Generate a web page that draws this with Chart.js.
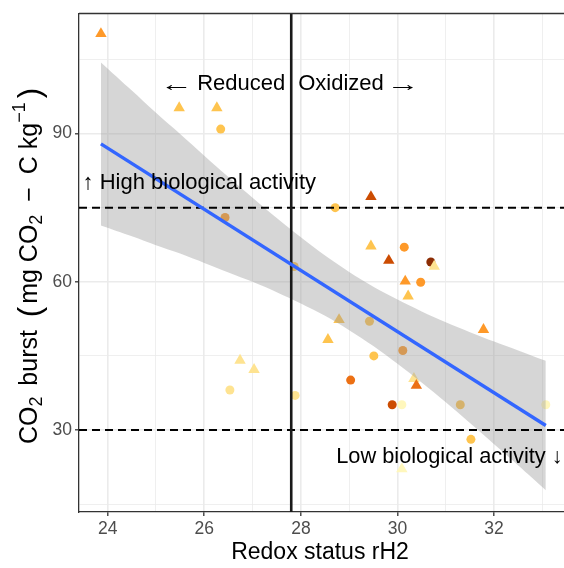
<!DOCTYPE html>
<html>
<head>
<meta charset="utf-8">
<script src="https://cdn.jsdelivr.net/npm/chart.js@4.4.1/dist/chart.umd.min.js"></script>
<style>
  html, body { margin: 0; padding: 0; background: #fff; }
</style>
</head>
<body>
<canvas id="chart-redox" width="564" height="568"></canvas>
<script>
// samples: redox status (rH2) against CO2 burst
const redox = [23.86, 25.48, 26.26, 26.34, 26.43, 28.71, 29.45, 29.45, 30.14, 29.82,
               30.69, 30.76, 30.16, 30.48, 30.22, 28.79, 29.42, 28.56, 31.78, 29.51,
               30.11, 26.74, 27.03, 26.53, 27.88, 29.03, 30.34, 30.39, 29.89, 30.09,
               31.30, 33.07, 31.52, 30.09, 27.86];
const co2Burst = [110.2, 95.2, 95.2, 90.9, 73.0, 75.0, 77.2, 67.2, 67.0, 64.3,
                  64.0, 63.1, 60.1, 59.9, 57.1, 52.3, 52.0, 48.3, 50.3, 45.0,
                  46.1, 44.1, 42.2, 38.1, 37.0, 40.1, 40.4, 39.0, 35.1, 35.1,
                  35.1, 35.1, 28.1, 22.1, 63.1];
// 0 = circle, 1 = triangle
const shapeType = [1, 1, 1, 0, 0, 0, 1, 1, 0, 1,
                   0, 1, 1, 0, 1, 1, 0, 1, 1, 0,
                   0, 1, 1, 0, 0, 0, 1, 1, 0, 0,
                   0, 0, 0, 1, 0];
// step on the yellow-orange-brown ramp
const colourLevel = [4, 3, 3, 3, 4, 3, 6, 3, 4, 6,
                     7, 2, 4, 4, 3, 3, 3, 3, 4, 3,
                     4, 2, 2, 2, 2, 5, 2, 5, 6, 1,
                     3, 1, 3, 1, 3];

// linear fit and its confidence band
const fitX = [23.86, 33.07];
const fitY = [87.9, 30.9];
const bandX = [23.86, 24.5, 25, 25.5, 26, 26.5, 27, 27.5, 28, 28.5,
               29, 29.5, 30, 30.5, 31, 31.5, 32, 32.5, 33.07];
const bandUpper = [104.4, 98.7, 94.2, 89.9, 85.5, 81.2, 77.0, 72.9, 69.0, 65.3,
                   62.0, 59.0, 56.4, 54.0, 51.8, 49.8, 47.9, 46.1, 44.0];
const bandLower = [71.4, 69.2, 67.4, 65.7, 63.8, 61.9, 60.0, 57.9, 55.6, 53.1,
                   50.2, 47.0, 43.4, 39.6, 35.6, 31.4, 27.1, 22.8, 17.8];

// thresholds
const redoxBoundary = 27.8;
const activityHigh = 75;
const activityLow = 30;

// axes
const xLabelTicks = [24, 26, 28, 30, 32];
const xGridTicks = [24, 25, 26, 27, 28, 29, 30, 31, 32, 33];
const yLabelTicks = [30, 60, 90];
const yGridTicks = [15, 30, 45, 60, 75, 90, 105];

const palette = ['#FFFFE5', '#FFF7BC', '#FEE391', '#FEC44F', '#FE9929', '#EC7014', '#CC4C02', '#8C2D04'];
const FONT = '"Liberation Sans", Arial, sans-serif';
const X_MIN = 23.406, X_MAX = 33.447, Y_MIN = 13.4, Y_MAX = 114.3;

const pts = redox.map((x, i) => ({ x: x, y: co2Burst[i] }));
const toXY = (xs, ys) => xs.map((x, i) => ({ x: x, y: ys[i] }));

// horizontal arrow glyph stretched to a given width
function drawArrow(ctx, glyph, x, y, width) {
  const w = ctx.measureText(glyph).width;
  ctx.save();
  ctx.textAlign = 'left';
  ctx.translate(x, y);
  ctx.scale(width / w, 1);
  ctx.fillText(glyph, 0, 0);
  ctx.restore();
}

const decorations = {
  id: 'decorations',
  afterDatasetsDraw(chart) {
    const ctx = chart.ctx, xs = chart.scales.x, ys = chart.scales.y;
    const vx = xs.getPixelForValue(redoxBoundary);
    const yTop = ys.getPixelForValue(100);
    ctx.save();
    ctx.fillStyle = '#000';
    ctx.font = '22px ' + FONT;
    ctx.textBaseline = 'middle';

    ctx.textAlign = 'right';
    ctx.fillText('Reduced', vx - 6, yTop);
    const redW = ctx.measureText('Reduced').width;
    drawArrow(ctx, '\u2190', vx - 6 - redW - 37, yTop + 1, 33);

    ctx.textAlign = 'left';
    ctx.fillText('Oxidized', vx + 7, yTop);
    const oxW = ctx.measureText('Oxidized').width;
    drawArrow(ctx, '\u2192', vx + 7 + oxW + 3, yTop + 1, 33);

    ctx.fillText('\u2191 High biological activity', xs.getPixelForValue(23.48), ys.getPixelForValue(80));
    ctx.font = '21.8px ' + FONT;
    ctx.textAlign = 'right';
    ctx.fillText('Low biological activity \u2193', xs.getPixelForValue(33.42), ys.getPixelForValue(24.6));
    ctx.restore();
  },
  afterDraw(chart) {
    const ctx = chart.ctx, a = chart.chartArea;
    ctx.save();
    // top edge of the panel
    ctx.strokeStyle = '#333';
    ctx.lineWidth = 1.3;
    ctx.beginPath();
    ctx.moveTo(a.left, a.top);
    ctx.lineTo(a.right + 2, a.top);
    ctx.stroke();

    ctx.fillStyle = '#000';
    ctx.textBaseline = 'middle';
    ctx.textAlign = 'center';
    ctx.font = '23px ' + FONT;
    ctx.fillText('Redox status rH2', 320, 553);

    // y title with sub/superscripts: [text, size, shift, gap after]
    const segs = [
      ['CO', 25, 0, 0], ['2', 18, 7, 4], [' burst ', 25, 0, 6], ['(', 31, 1, 3],
      ['mg CO', 25, 0, 0], ['2', 18, 7, 6], [' \u2212 ', 25, 0, 6], ['C kg', 25, 0, 0],
      ['\u22121', 18, -10, 4], [')', 31, 1, 0]
    ];
    let total = 0;
    segs.forEach(s => {
      ctx.font = s[1] + 'px ' + FONT;
      s.push(ctx.measureText(s[0]).width);
      total += s[4] + s[3];
    });
    ctx.translate(30, 266);
    ctx.rotate(-Math.PI / 2);
    ctx.textAlign = 'left';
    let cx = -total / 2;
    segs.forEach(s => {
      ctx.font = s[1] + 'px ' + FONT;
      ctx.fillText(s[0], cx, s[2]);
      cx += s[4] + s[3];
    });
    ctx.restore();
  }
};

const isMajor = (list, v) => list.indexOf(Math.round(v * 100) / 100) !== -1;

new Chart(document.getElementById('chart-redox'), {
  type: 'scatter',
  data: {
    datasets: [
      {
        // samples
        data: pts,
        order: 5,
        pointStyle: c => shapeType[c.dataIndex] ? 'triangle' : 'circle',
        pointRadius: c => shapeType[c.dataIndex] ? 6.6 : 4.5,
        backgroundColor: c => palette[colourLevel[c.dataIndex]],
        borderWidth: 0
      },
      {
        // confidence band, upper edge filled down to the lower edge
        type: 'line',
        data: toXY(bandX, bandUpper),
        order: 4,
        fill: '+1',
        backgroundColor: 'rgba(153,153,153,0.4)',
        borderWidth: 0,
        pointRadius: 0,
        tension: 0.3
      },
      {
        type: 'line',
        data: toXY(bandX, bandLower),
        order: 4,
        fill: false,
        borderWidth: 0,
        borderColor: 'rgba(0,0,0,0)',
        pointRadius: 0,
        tension: 0.3
      },
      {
        type: 'line',
        data: [{ x: X_MIN, y: activityHigh }, { x: X_MAX, y: activityHigh }],
        order: 3,
        borderColor: '#000',
        borderWidth: 2,
        borderDash: [8, 5],
        pointRadius: 0
      },
      {
        type: 'line',
        data: [{ x: X_MIN, y: activityLow }, { x: X_MAX, y: activityLow }],
        order: 3,
        borderColor: '#000',
        borderWidth: 2,
        borderDash: [8, 5],
        pointRadius: 0
      },
      {
        type: 'line',
        data: [{ x: redoxBoundary, y: Y_MIN }, { x: redoxBoundary, y: Y_MAX }],
        order: 2,
        borderColor: '#1a1a1a',
        borderWidth: 2.6,
        pointRadius: 0
      },
      {
        // fitted line
        type: 'line',
        data: toXY(fitX, fitY),
        order: 1,
        borderColor: '#3366FF',
        borderWidth: 3.4,
        pointRadius: 0
      }
    ]
  },
  options: {
    responsive: false,
    animation: false,
    devicePixelRatio: 1,
    layout: { autoPadding: false, padding: { top: 9, left: 0, right: 0, bottom: 0 } },
    plugins: {
      legend: { display: false },
      tooltip: { enabled: false }
    },
    scales: {
      x: {
        type: 'linear',
        min: X_MIN,
        max: X_MAX,
        afterBuildTicks: axis => { axis.ticks = xGridTicks.map(v => ({ value: v })); },
        afterFit: axis => { axis.height = 56; },
        border: { display: true, color: '#333', width: 1.3 },
        grid: {
          color: '#EBEBEB',
          lineWidth: c => isMajor(xLabelTicks, c.tick.value) ? 1.6 : 0.8,
          tickColor: c => isMajor(xLabelTicks, c.tick.value) ? '#333' : 'rgba(0,0,0,0)',
          tickLength: 4,
          tickWidth: 1.3
        },
        ticks: {
          autoSkip: false,
          maxRotation: 0,
          padding: 3,
          color: '#4D4D4D',
          font: { size: 17.5, family: FONT },
          callback: v => isMajor(xLabelTicks, v) ? String(v) : ''
        }
      },
      y: {
        type: 'linear',
        min: Y_MIN,
        max: Y_MAX,
        afterBuildTicks: axis => { axis.ticks = yGridTicks.map(v => ({ value: v })); },
        afterFit: axis => { axis.width = 79; },
        border: { display: true, color: '#333', width: 1.3 },
        grid: {
          color: '#EBEBEB',
          lineWidth: c => isMajor(yLabelTicks, c.tick.value) ? 1.6 : 0.8,
          tickColor: c => isMajor(yLabelTicks, c.tick.value) ? '#333' : 'rgba(0,0,0,0)',
          tickLength: 4,
          tickWidth: 1.3
        },
        ticks: {
          autoSkip: false,
          padding: 3,
          color: '#4D4D4D',
          font: { size: 17.5, family: FONT },
          callback: v => isMajor(yLabelTicks, v) ? String(v) : ''
        }
      }
    }
  },
  plugins: [decorations]
});
</script>
</body>
</html>
